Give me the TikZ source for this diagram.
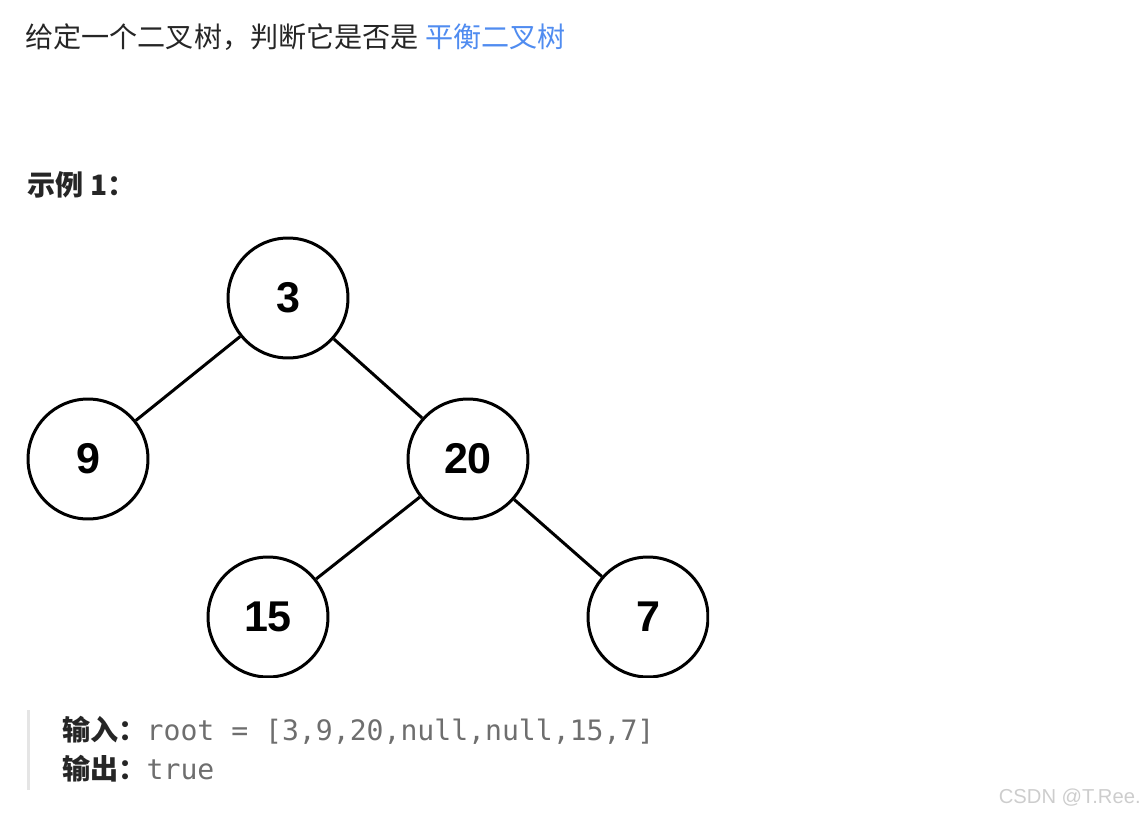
\documentclass[tikz,border=0pt]{standalone}
\usepackage{fontspec}
\setmainfont{Liberation Sans}
\newfontfamily\cjk{Noto Sans CJK SC}
\newfontfamily\mono{DejaVu Sans Mono}
\definecolor{textdark}{RGB}{38,38,38}
\definecolor{linkblue}{RGB}{80,140,240}
\definecolor{codegray}{RGB}{110,110,110}
\definecolor{barline}{RGB}{229,229,229}
\definecolor{markgray}{RGB}{205,205,205}

\begin{document}
\begin{tikzpicture}[x=0.02cm, y=-0.02cm,
    treenode/.style={circle, draw=black, line width=0.06cm, minimum size=2.4cm,
        inner sep=0, font=\fontsize{24.5pt}{28pt}\selectfont\bfseries},
    treeedge/.style={line width=0.06cm, black},
    line/.style={anchor=west, inner sep=0, text=textdark,
        font=\fontsize{16pt}{19pt}\selectfont\cjk}]
    \useasboundingbox (0,0) rectangle (1146,818);

    % heading
    \node[line] (title) at (25,37) {给定一个二叉树，判断它是否是 \textcolor{linkblue}{平衡二叉树}};
    \node[line, font=\fontsize{16pt}{19pt}\selectfont\cjk\bfseries] (example) at (27,185) {示例 1：};

    % tree
    \begin{scope}
        \clip (0,225) rectangle (709,677);
        \node[treenode] (n3) at (288,298) {3};
        \node[treenode] (n9) at (88,459) {9};
        \node[treenode] (n20) at (468,459) {20};
        \node[treenode] (n15) at (268,617) {15};
        \node[treenode] (n7) at (648,617) {7};

        \draw[treeedge] (n3) -- (n9);
        \draw[treeedge] (n3) -- (n20);
        \draw[treeedge] (n20) -- (n15);
        \draw[treeedge] (n20) -- (n7);
    \end{scope}

    % input / output
    \coordinate (bartop) at (28.5,710);
    \coordinate (barbot) at (28.5,790);
    \draw[barline, line width=0.07cm] (bartop) -- (barbot);
    \node[line] (input) at (62,730) {{\bfseries 输入：}\textcolor{codegray}{\mono root = [3,9,20,null,null,15,7]}};
    \node[line] (output) at (62,769) {{\bfseries 输出：}\textcolor{codegray}{\mono true}};

    \node[anchor=east, inner sep=0, text=markgray, font=\fontsize{11.5pt}{14pt}\selectfont] (mark) at (1141,798) {CSDN @T.Ree.};
\end{tikzpicture}
\end{document}
